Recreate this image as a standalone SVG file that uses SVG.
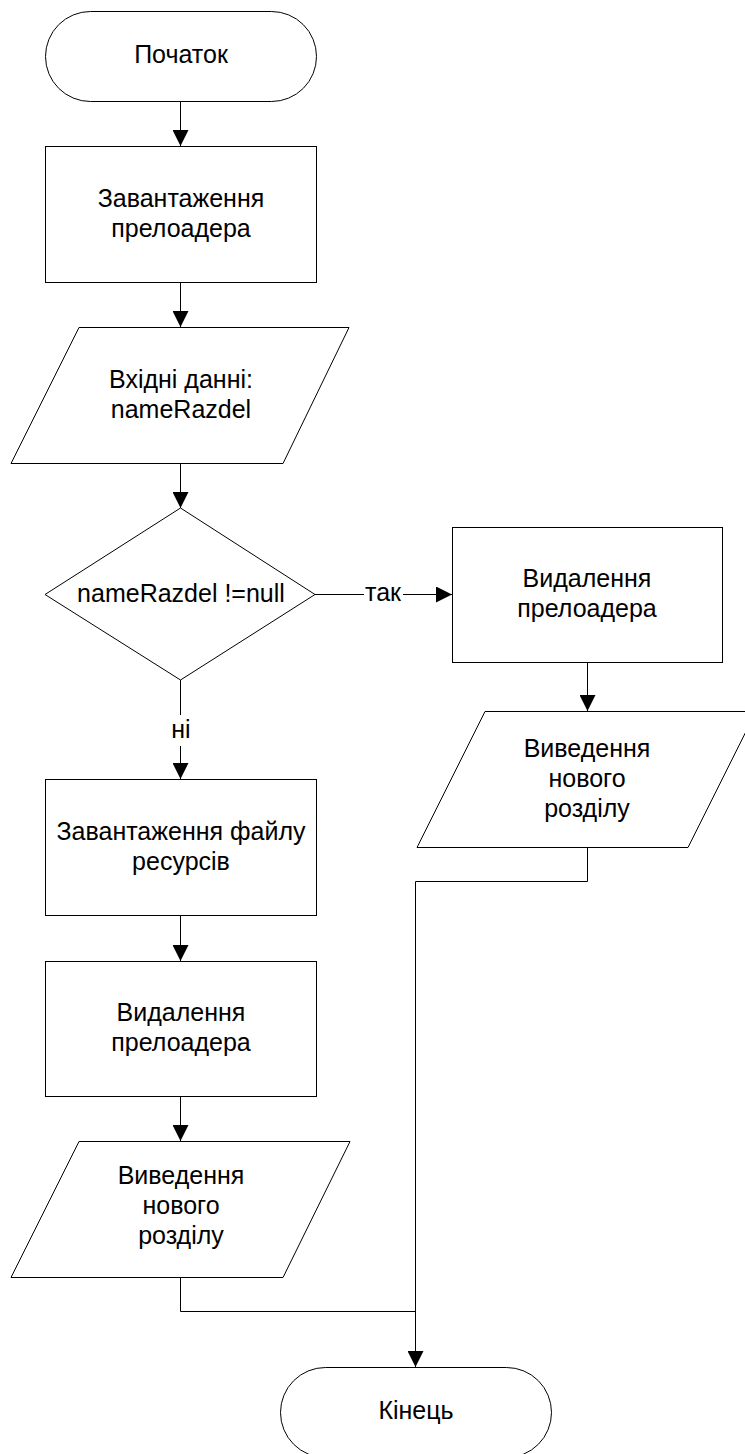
<svg xmlns="http://www.w3.org/2000/svg" width="745" height="1454" viewBox="0 0 745 1454">
<style>
  .shape { fill: #ffffff; stroke: #000000; stroke-width: 1; }
  .conn { fill: none; stroke: #000000; stroke-width: 1; }
  .arrow { fill: none; stroke: #000000; stroke-width: 1; marker-end: url(#ah); }
  text { font-family: "Liberation Sans", Arial, sans-serif; font-size: 25px; fill: #000000; text-anchor: middle; }
</style>
<defs>
  <marker id="ah" markerUnits="userSpaceOnUse" markerWidth="16" markerHeight="16" refX="16" refY="8" orient="auto">
    <path d="M0,0 L16,8 L0,16 Z" fill="#000000"/>
  </marker>
</defs>
<rect width="745" height="1454" fill="#ffffff"/>

<g id="connectors">
  <path class="arrow" d="M180.5,101 V146"/>
  <path class="arrow" d="M180.5,282 V327"/>
  <path class="arrow" d="M180.5,463 V508"/>
  <path class="conn" d="M315,594.5 H364"/>
  <path class="arrow" d="M403,594.5 H452"/>
  <text x="383" y="601">так</text>
  <path class="conn" d="M180.5,680 V715"/>
  <path class="arrow" d="M180.5,746 V779"/>
  <text x="181" y="738">ні</text>
  <path class="arrow" d="M180.5,915 V961"/>
  <path class="arrow" d="M180.5,1096 V1141"/>
  <path class="arrow" d="M587.5,662 V711"/>
  <path class="conn" d="M180.5,1277 V1311.5 H415.5"/>
  <path class="arrow" d="M587.5,847 V881.5 H415.5 V1367"/>
</g>

<g id="start">
  <rect class="shape" x="45.5" y="11.5" width="271" height="90" rx="45" ry="45"/>
  <text x="181" y="63">Початок</text>
</g>

<g id="load-preloader">
  <rect class="shape" x="45.5" y="146.5" width="271" height="136"/>
  <text x="181" y="207">Завантаження</text>
  <text x="181" y="237">прелоадера</text>
</g>

<g id="input">
  <polygon class="shape" points="79,327.5 349,327.5 283,463.5 11,463.5"/>
  <text x="181" y="388">Вхідні данні:</text>
  <text x="181" y="418">nameRazdel</text>
</g>

<g id="decision">
  <polygon class="shape" points="180.5,508 315,594.5 180.5,680 45,594.5"/>
  <text x="181" y="602">nameRazdel !=null</text>
</g>

<g id="remove-preloader-right">
  <rect class="shape" x="452.5" y="527.5" width="270" height="135"/>
  <text x="587" y="587">Видалення</text>
  <text x="587" y="617">прелоадера</text>
</g>

<g id="output-right">
  <polygon class="shape" points="485,711.5 756,711.5 688,847.5 417,847.5"/>
  <text x="587" y="757">Виведення</text>
  <text x="587" y="787">нового</text>
  <text x="587" y="817">розділу</text>
</g>

<g id="load-resources">
  <rect class="shape" x="45.5" y="779.5" width="271" height="136"/>
  <text x="181" y="840">Завантаження файлу</text>
  <text x="181" y="870">ресурсів</text>
</g>

<g id="remove-preloader-left">
  <rect class="shape" x="45.5" y="961.5" width="271" height="135"/>
  <text x="181" y="1021">Видалення</text>
  <text x="181" y="1051">прелоадера</text>
</g>

<g id="output-left">
  <polygon class="shape" points="79,1141.5 350,1141.5 283,1277.5 11,1277.5"/>
  <text x="181" y="1184">Виведення</text>
  <text x="181" y="1214">нового</text>
  <text x="181" y="1244">розділу</text>
</g>

<g id="end">
  <rect class="shape" x="280.5" y="1367.5" width="271" height="90" rx="45" ry="45"/>
  <text x="416" y="1419">Кінець</text>
</g>
</svg>
